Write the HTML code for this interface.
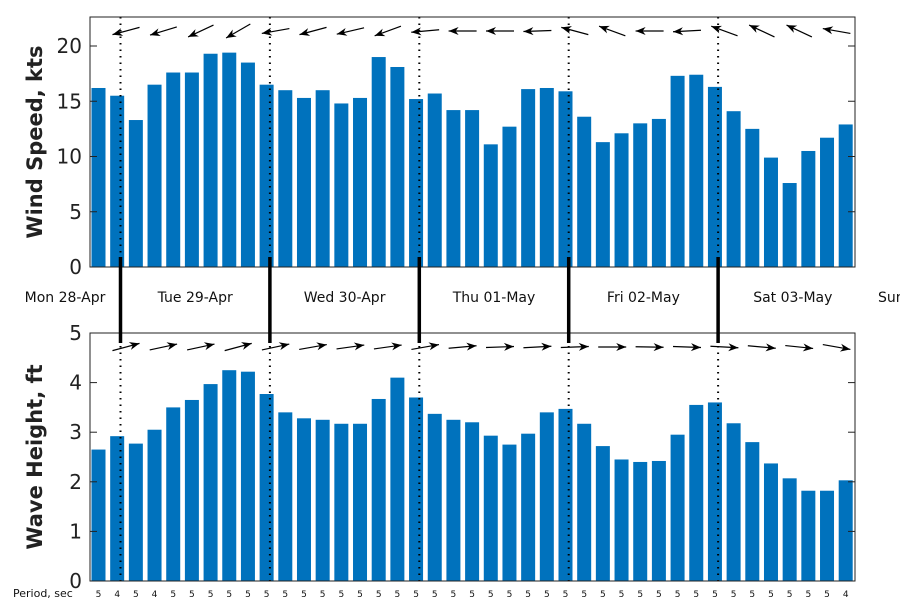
<!DOCTYPE html>
<html><head><meta charset="utf-8"><style>
body{margin:0;background:#fff;}
svg text{font-family:"DejaVu Sans","Liberation Sans",sans-serif;}
</style></head><body>
<svg id="c" width="900" height="600" xmlns="http://www.w3.org/2000/svg"></svg>
<script>
const wind=[16.2,15.5,13.3,16.5,17.6,17.6,19.3,19.4,18.5,16.5,16.0,15.3,16.0,14.8,15.3,19.0,18.1,15.2,15.7,14.2,14.2,11.1,12.7,16.1,16.2,15.9,13.6,11.3,12.1,13.0,13.4,17.3,17.4,16.3,14.1,12.5,9.9,7.6,10.5,11.7,12.9];
const wave=[2.65,2.92,2.77,3.05,3.5,3.65,3.97,4.25,4.22,3.77,3.4,3.28,3.25,3.17,3.17,3.67,4.1,3.7,3.37,3.25,3.2,2.93,2.75,2.97,3.4,3.47,3.17,2.72,2.45,2.4,2.42,2.95,3.55,3.6,3.18,2.8,2.37,2.07,1.82,1.82,2.03];
const periods=[5,4,5,4,5,5,5,5,5,5,5,5,5,5,5,5,5,5,5,5,5,5,5,5,5,5,5,5,5,5,5,5,5,5,5,5,5,5,5,5,4];
const windDir=[165,163,155,150,170,165,167,160,175,180,180,178,195,200,180,177,200,205,205,190];
const waveDir=[-15,-12,-12,-15,-12,-10,-8,-8,-10,-5,-2,-3,-2,0,1,2,3,5,6,10];
const days=["Mon 28-Apr","Tue 29-Apr","Wed 30-Apr","Thu 01-May","Fri 02-May","Sat 03-May","Sun"];
const windTicks=[0,5,10,15,20];
const waveTicks=[0,1,2,3,4,5];

const svg=document.getElementById('c');
const NS='http://www.w3.org/2000/svg';
function mk(tag,attrs,parent){const e=document.createElementNS(NS,tag);for(const k in attrs)e.setAttribute(k,attrs[k]);(parent||svg).appendChild(e);return e;}
const L=90,R=855,step=18.68,x0=98.5;
const xb=i=>x0+i*step;
const dayX=k=>120.5+149.4*k;
const yTop=v=>267-v*11.05;
const yBot=v=>581-v*49.6;

function panel(vals,ys,top,bottom,ticks,title,name,dirs,flip){
  const g=mk('g',{});
  
  
  vals.forEach((v,i)=>{
    const r=mk('rect',{x:xb(i)-7,y:ys(v),width:14,height:bottom-ys(v),fill:'#0072BD'},g);
    
    
  });
  for(let k=0;k<5;k++){
    const d=mk('line',{x1:dayX(k),x2:dayX(k),y1:top,y2:bottom,stroke:'#000','stroke-width':2,'stroke-dasharray':'1.5,5'},g);
    
    
  }
  const f=mk('rect',{x:L,y:top,width:R-L,height:bottom-top,fill:'none',stroke:'#222','stroke-width':1},g);
  
  
  ticks.forEach(t=>{
    mk('line',{x1:L,x2:L+7,y1:ys(t),y2:ys(t),stroke:'#222'},g);
    mk('line',{x1:R,x2:R-7,y1:ys(t),y2:ys(t),stroke:'#222'},g);
    const tx=mk('text',{x:L-8,y:ys(t)+7,'text-anchor':'end','font-size':20,fill:'#222'},g);
    tx.textContent=t;
    
    
  });
  const cy=(top+bottom)/2;
  const tt=mk('text',{x:42,y:cy,transform:`rotate(-90 42 ${cy})`,'text-anchor':'middle','font-size':21,'font-weight':'bold',fill:'#222'},g);
  tt.textContent=title;
  
  
  const ay=flip?31:347;
  dirs.forEach((a,k)=>{
    const cx=126+37.4*k, len=28, rad=a*Math.PI/180;
    const dx=Math.cos(rad)*len/2, dy=Math.sin(rad)*len/2;
    const x1=cx-dx,y1=ay-dy,x2=cx+dx,y2=ay+dy;
    const ag=mk('g',{},g);
    
    
    mk('line',{x1,y1,x2,y2,stroke:'#000','stroke-width':1.2},ag);
    const ux=Math.cos(rad),uy=Math.sin(rad),px=-uy,py=ux;
    const bx=x2-ux*10,by=y2-uy*10,mx=x2-ux*7,my=y2-uy*7;
    mk('path',{d:`M${x2},${y2} L${bx+px*4},${by+py*4} L${mx},${my} L${bx-px*4},${by-py*4} Z`,fill:'#000'},ag);
  });
}
panel(wind,yTop,17,267,windTicks,'Wind Speed, kts','wind-speed',windDir,true);
panel(wave,yBot,333,581,waveTicks,'Wave Height, ft','wave-height',waveDir,false);

for(let k=0;k<5;k++){
  const l=mk('line',{x1:dayX(k),x2:dayX(k),y1:257,y2:343,stroke:'#000','stroke-width':3.5});
  
  
}
days.forEach((d,k)=>{
  const cx=k===0?65:(k===6?895:dayX(k-1)+74.7);
  const t=mk('text',{x:k===6?878:cx,y:302,'text-anchor':k===6?'start':'middle','font-size':14,fill:'#111'});
  t.textContent=d;
  
  
});
const pl=mk('text',{x:13,y:597,'font-size':11,fill:'#111'});
pl.textContent='Period, sec';


periods.forEach((p,i)=>{
  const t=mk('text',{x:xb(i),y:597,'text-anchor':'middle','font-size':9,fill:'#111'});
  t.textContent=p;
  
  
});
</script>
</body></html>
